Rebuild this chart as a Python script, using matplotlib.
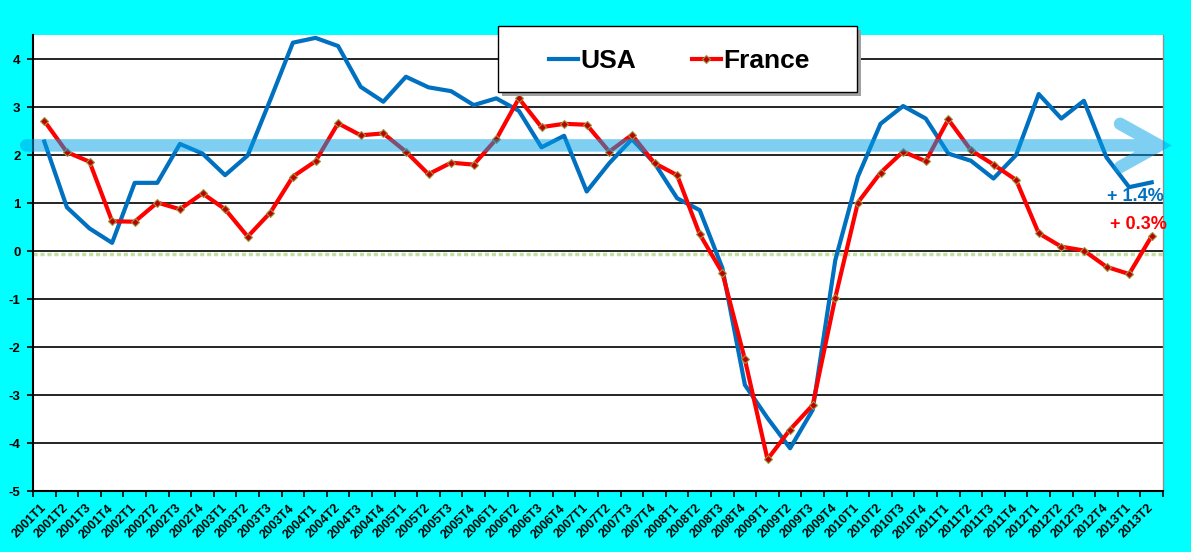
import matplotlib
matplotlib.use('Agg')
import matplotlib.pyplot as plt
from matplotlib.patches import Rectangle, PathPatch
from matplotlib.path import Path
import numpy as np

plt.rcParams['font.family'] = ['Liberation Sans', 'DejaVu Sans']
plt.rcParams['axes.unicode_minus'] = False

# trimestres 2001T1 .. 2013T2
quarters = ['%dT%d' % (y, q) for y in range(2001, 2014) for q in range(1, 5)][:50]

usa = [2.28, 0.91, 0.47, 0.17, 1.42, 1.42, 2.23, 2.03, 1.58, 1.99,
       3.15, 4.34, 4.44, 4.27, 3.42, 3.11, 3.63, 3.41, 3.33, 3.04,
       3.18, 2.92, 2.16, 2.40, 1.24, 1.83, 2.33, 1.83, 1.10, 0.85,
       -0.35, -2.79, -3.48, -4.11, -3.31, -0.19, 1.55, 2.65, 3.02, 2.76,
       2.03, 1.88, 1.51, 2.00, 3.27, 2.76, 3.13, 1.95, 1.33, 1.43]

france = [2.71, 2.06, 1.86, 0.62, 0.61, 1.01, 0.87, 1.20, 0.87, 0.30,
          0.80, 1.55, 1.87, 2.66, 2.41, 2.45, 2.07, 1.60, 1.84, 1.80,
          2.33, 3.18, 2.58, 2.65, 2.63, 2.07, 2.42, 1.83, 1.58, 0.35,
          -0.45, -2.26, -4.34, -3.72, -3.21, -0.97, 1.01, 1.63, 2.07, 1.87,
          2.74, 2.10, 1.80, 1.48, 0.37, 0.09, 0.01, -0.33, -0.48, 0.31]

trend_level = 2.2
zero_line = -0.07
last_usa_label = '+ 1.4%'
last_france_label = '+ 0.3%'

usa_color = '#0070c0'
fr_color = '#ff0000'

fig = plt.figure(figsize=(11.91, 5.52), dpi=100, facecolor='#00ffff')
ax = fig.add_axes([33 / 1191, 61 / 552, 1130 / 1191, 456 / 552])
ax.set_facecolor('white')

x = np.arange(len(quarters))
n = len(quarters)

ax.set_xlim(-0.5, n - 0.5)
ax.set_ylim(-5, 4.5)
ax.set_yticks(np.arange(-5, 5))
ax.yaxis.grid(True, color='black', linewidth=1.2)
ax.set_axisbelow(True)

ax.axhline(zero_line, color='#c4e0a0', linewidth=2.5, linestyle=(0, (1.2, 0.8)), zorder=2)

ax.plot(x, usa, color=usa_color, linewidth=3, label='USA', zorder=3)
ax.plot(x, france, color=fr_color, linewidth=3, marker='D', markersize=4,
        markerfacecolor='#c00000', markeredgecolor='#9a9a40', markeredgewidth=0.8,
        label='France', zorder=4)

# fleche de tendance (un seul chemin pour ne pas doubler la transparence)
tip = n - 0.68
arm_x = tip - 1.72
verts = [(-0.8, trend_level), (tip - 0.3, trend_level),
         (arm_x, trend_level + 0.45), (tip, trend_level), (arm_x, trend_level - 0.45)]
codes = [Path.MOVETO, Path.LINETO, Path.MOVETO, Path.LINETO, Path.LINETO]
arrow = PathPatch(Path(verts, codes), facecolor='none', edgecolor=(0, 0.627, 0.914, 0.5),
                  linewidth=9, capstyle='round', joinstyle='miter', clip_on=False, zorder=5)
ax.add_patch(arrow)

ax.text(n - 1.74, 1.14, last_usa_label, color=usa_color, fontsize=13, fontweight='bold',
        ha='center', va='center', zorder=6)
ax.text(n - 1.6, 0.56, last_france_label, color=fr_color, fontsize=13, fontweight='bold',
        ha='center', va='center', zorder=6)

# axes
ax.spines['top'].set_visible(False)
ax.spines['right'].set_color('#909090')
ax.spines['right'].set_linewidth(1)
ax.spines['left'].set_linewidth(1.5)
ax.spines['bottom'].set_linewidth(1.5)

ax.set_xticks(x)
ax.set_xticklabels(quarters, rotation=45, ha='right', va='center', rotation_mode='anchor',
                   fontsize=9, fontweight='bold')
ax.set_xticks(np.arange(-0.5, n, 1), minor=True)
ax.tick_params(axis='x', which='major', length=0, pad=11)
ax.tick_params(axis='x', which='minor', length=4, width=1.2, direction='out')
ax.tick_params(axis='y', length=4, width=1.2, direction='out', pad=5, labelsize=9.5)
for lab in ax.get_yticklabels():
    lab.set_fontweight('bold')

# legende
x0, x1 = 498 / 1191, 857 / 1191
y0, y1 = 1 - 92 / 552, 1 - 26 / 552
shadow = Rectangle((x0 + 4 / 1191, y0 - 4 / 552), x1 - x0, y1 - y0, transform=fig.transFigure,
                   facecolor='#a0a0a0', edgecolor='none', clip_on=False, zorder=9)
box = Rectangle((x0, y0), x1 - x0, y1 - y0, transform=fig.transFigure,
                facecolor='white', edgecolor='black', linewidth=1, clip_on=False, zorder=10)
ax.add_patch(shadow)
ax.add_patch(box)
leg = ax.legend(loc='center', bbox_to_anchor=((x0 + x1) / 2 + 2 / 1191, (y0 + y1) / 2 - 2 / 552),
                bbox_transform=fig.transFigure, ncol=2, frameon=False,
                prop={'size': 19, 'weight': 'bold'}, handlelength=1.1,
                handletextpad=0.1, columnspacing=2.1)
leg.set_zorder(11)

plt.savefig('out.png', dpi=100, facecolor=fig.get_facecolor())
